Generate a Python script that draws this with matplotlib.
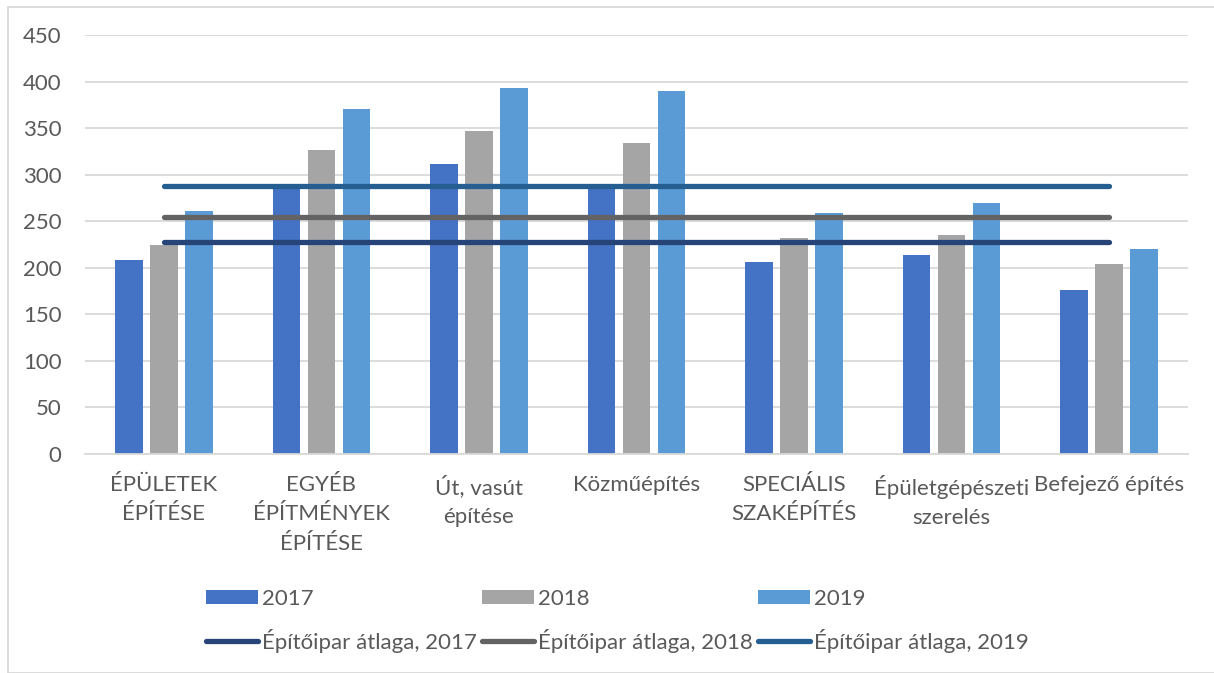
import numpy as np
import matplotlib
matplotlib.use("Agg")
import matplotlib.pyplot as plt
from matplotlib.patches import Patch, Rectangle
from matplotlib.lines import Line2D

plt.rcParams['font.family'] = ['Lato', 'DejaVu Sans']

categories = ["ÉPÜLETEK\nÉPÍTÉSE", "EGYÉB\nÉPÍTMÉNYEK\nÉPÍTÉSE", "Út, vasút\népítése",
              "Közműépítés", "SPECIÁLIS\nSZAKÉPÍTÉS", "Épületgépészeti\nszerelés",
              "Befejező építés"]
v2017 = [208, 287, 311, 289, 206, 214, 176]
v2018 = [225, 326, 347, 334, 232, 235, 204]
v2019 = [261, 371, 393, 390, 259, 270, 220]
avg2017 = 228
avg2018 = 255
avg2019 = 288

bar_colors = ["#4472C4", "#A5A5A5", "#5B9BD5"]
line_colors = ["#264478", "#636363", "#255E91"]
txt = "#595959"
fs = 16

fig = plt.figure(figsize=(12.14, 6.73), dpi=100)
ax = fig.add_axes([0.070, 0.3254, 0.9086, 0.6226])

# chart frame
fig.patches.append(Rectangle((7.5 / 1214, 0), 1.2, 1 - 6.5 / 673, transform=fig.transFigure,
                             fill=False, edgecolor="#D9D9D9", lw=1.3, zorder=0))

x = np.arange(len(categories))
w = 0.175
step = 0.222
for i, (vals, c) in enumerate(zip([v2017, v2018, v2019], bar_colors)):
    ax.bar(x + (i - 1) * step, vals, w, color=c, zorder=2)

# sector averages as horizontal lines across the categories
for v, c in zip([avg2017, avg2018, avg2019], line_colors):
    lc = ax.hlines(v, x[0], x[-1], colors=c, lw=3.8, zorder=3)
    lc.set_capstyle("round")

ax.set_xlim(-0.5, len(categories) - 0.5)
ax.set_ylim(0, 450)
ax.set_yticks(np.arange(0, 451, 50))
ax.yaxis.grid(True, color="#D9D9D9", lw=1.3, zorder=0)
ax.set_axisbelow(True)
for s in ["top", "right", "left"]:
    ax.spines[s].set_visible(False)
ax.spines["bottom"].set_color("#D9D9D9")
ax.spines["bottom"].set_linewidth(1.3)

ax.set_xticks(x)
ax.set_xticklabels(categories, linespacing=1.6)
ax.tick_params(axis="y", length=0, pad=17, labelsize=fs, labelcolor=txt)
ax.tick_params(axis="x", length=0, pad=15, labelsize=fs, labelcolor=txt)

handles = []
labels = []
for i, yr in enumerate(["2017", "2018", "2019"]):
    handles.append(Patch(facecolor=bar_colors[i]))
    labels.append(yr)
    handles.append(Line2D([], [], color=line_colors[i], lw=3.8, solid_capstyle="round"))
    labels.append("Építőipar átlaga, " + yr)

fig.legend(handles, labels, ncol=3, loc="center", bbox_to_anchor=(0.5086, 0.078),
           frameon=False, fontsize=fs, labelcolor=txt, handlelength=2.35,
           handleheight=0.6, handletextpad=0.2, columnspacing=0.2,
           labelspacing=0.9, borderpad=0)

fig.savefig("out.png", dpi=100)
